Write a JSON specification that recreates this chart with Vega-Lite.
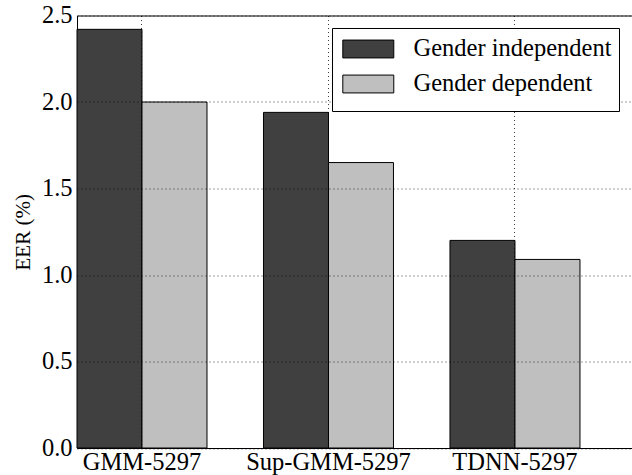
{
  "$schema": "https://vega.github.io/schema/vega-lite/v6.json",
  "autosize": {"type": "none"},
  "padding": {"left": 77, "top": 15.5, "right": 0, "bottom": 27},
  "width": 555,
  "height": 432.5,
  "data": {
    "values": [
      {"model": "GMM-5297", "series": "Gender independent", "eer": 2.42},
      {"model": "GMM-5297", "series": "Gender dependent", "eer": 2.0},
      {"model": "Sup-GMM-5297", "series": "Gender independent", "eer": 1.94},
      {"model": "Sup-GMM-5297", "series": "Gender dependent", "eer": 1.65},
      {"model": "TDNN-5297", "series": "Gender independent", "eer": 1.2},
      {"model": "TDNN-5297", "series": "Gender dependent", "eer": 1.09}
    ]
  },
  "mark": {"type": "bar", "stroke": "#000000", "strokeWidth": 1},
  "encoding": {
    "x": {
      "field": "model",
      "type": "nominal",
      "sort": null,
      "scale": {"paddingInner": 0.303, "paddingOuter": 0.1395, "align": 0},
      "axis": {
        "title": null,
        "labelAngle": 0,
        "bandPosition": 0.5,
        "grid": true,
        "ticks": false,
        "domain": false,
        "labelPadding": 2,
        "zindex": 1
      }
    },
    "xOffset": {
      "field": "series",
      "type": "nominal",
      "sort": ["Gender independent", "Gender dependent"],
      "scale": {"paddingInner": 0, "paddingOuter": 0}
    },
    "y": {
      "field": "eer",
      "type": "quantitative",
      "scale": {"domain": [0, 2.5], "nice": false},
      "axis": {
        "title": "EER (%)",
        "values": [0, 0.5, 1.0, 1.5, 2.0, 2.5],
        "format": ".1f",
        "grid": true,
        "ticks": false,
        "domain": false,
        "labelPadding": 5,
        "titleFontSize": 21,
        "titlePadding": 8,
        "zindex": 1
      }
    },
    "color": {
      "field": "series",
      "type": "nominal",
      "sort": ["Gender independent", "Gender dependent"],
      "scale": {
        "domain": ["Gender independent", "Gender dependent"],
        "range": ["#404040", "#bfbfbf"]
      },
      "legend": {
        "title": "\u00a0",
        "titleOrient": "bottom",
        "titleFontSize": 8,
        "titlePadding": 0,
        "orient": "none",
        "legendX": 255,
        "legendY": 12.5,
        "symbolType": "M-0.8,-0.7H3.2V0.7H-0.8Z",
        "symbolSize": 650,
        "symbolStrokeColor": "#000000",
        "symbolStrokeWidth": 1,
        "symbolOpacity": 1,
        "labelFont": "Liberation Serif",
        "labelFontSize": 24.5,
        "labelColor": "#000000",
        "labelOffset": 47,
        "rowPadding": 10,
        "padding": 7.5,
        "strokeColor": "#000000",
        "fillColor": "#ffffff",
        "zindex": 2
      }
    }
  },
  "config": {
    "view": {"stroke": "#000000", "strokeWidth": 1},
    "axis": {
      "labelFont": "Liberation Serif",
      "labelFontSize": 24.5,
      "labelColor": "#000000",
      "titleFont": "Liberation Serif",
      "titleFontSize": 21,
      "titleFontWeight": "normal",
      "titleColor": "#000000",
      "gridColor": "#000000",
      "gridDash": [1, 3],
      "gridWidth": 0.9,
      "gridOpacity": 0.85
    },
    "legend": {"labelLimit": 400}
  }
}
